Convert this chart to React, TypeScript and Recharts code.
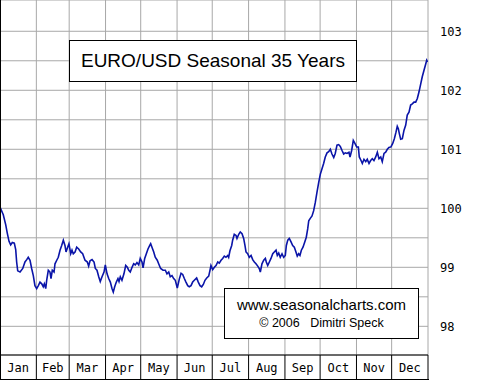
import React from "react";
import { LineChart, Line, XAxis, YAxis, CartesianGrid } from "recharts";

const months = ["Jan", "Feb", "Mar", "Apr", "May", "Jun", "Jul", "Aug", "Sep", "Oct", "Nov", "Dec"];
const monthStarts = [0, 31, 59, 90, 120, 151, 181, 212, 243, 273, 304, 334, 365];
const monthMids = [15.5, 45, 74.5, 105, 135.5, 166, 196.5, 227.5, 258, 288.5, 319, 349.5];
const yTicks = [98, 98.5, 99, 99.5, 100, 100.5, 101, 101.5, 102, 102.5, 103];

const days = [
  0, 2.8, 4.9, 6.2, 7.7, 9.1, 10.5, 12.2, 13.4, 14.2, 15.1, 17.1, 19.4, 21.3, 22.8, 24.1, 25.6, 27.0, 28.4, 29.8,
  31.3, 32.7, 34.1, 35.6, 36.9, 37.8, 39.0, 39.8, 41.2, 42.6, 43.5, 44.6, 46.1, 46.9, 48.4, 49.7, 51.2, 52.6, 54.0, 55.4,
  56.3, 57.7, 58.8, 60.3, 61.4, 62.5, 64.0, 65.4, 67.1, 68.8, 70.5, 72.5, 74.5, 75.6, 76.8, 78.5, 80.2, 81.3, 82.7, 84.2,
  85.5, 87.0, 88.7, 89.8, 91.3, 92.7, 94.1, 95.5, 96.6, 97.8, 99.2, 100.6, 101.5, 102.6, 104.0, 105.7, 107.2, 108.6, 109.8, 111.1,
  112.6, 114.0, 115.4, 116.8, 118.3, 119.6, 121.1, 122.0, 123.4, 124.8, 126.2, 127.7, 128.5, 129.6, 131.1, 132.4, 134.1, 135.3, 137.0, 139.0,
  141.0, 142.4, 143.9, 145.2, 146.7, 148.1, 149.5, 151.2, 152.9, 154.4, 155.8, 157.2, 158.6, 160.1, 161.4, 162.9, 164.3, 165.7, 167.7, 169.1,
  170.6, 172.0, 173.4, 174.8, 176.3, 178.0, 179.1, 179.9, 181.4, 182.8, 184.2, 185.7, 187.0, 188.5, 189.9, 191.3, 192.7, 194.2, 195.0, 196.1,
  197.6, 198.4, 199.8, 201.3, 202.1, 203.6, 204.9, 206.4, 207.8, 208.9, 209.8, 211.2, 212.6, 214.1, 215.5, 216.9, 218.3, 219.8, 221.1, 222.0,
  223.4, 224.9, 226.3, 227.1, 228.3, 229.7, 231.1, 232.6, 233.9, 235.4, 236.5, 237.7, 239.0, 240.5, 241.9, 243.3, 244.2, 245.4, 246.7, 248.2,
  249.6, 251.0, 252.4, 253.5, 254.7, 255.8, 257.0, 258.4, 259.9, 261.2, 262.4, 263.3, 264.6, 266.1, 267.5, 268.9, 270.3, 271.8, 273.2, 274.6,
  276.0, 277.4, 278.9, 280.3, 281.7, 283.1, 284.6, 285.9, 287.4, 288.8, 290.2, 291.7, 293.1, 294.5, 295.9, 297.6, 298.5, 299.9, 301.3, 302.7,
  304.2, 305.6, 306.4, 307.9, 309.0, 310.4, 311.9, 313.2, 314.7, 316.1, 317.5, 318.9, 320.4, 321.8, 323.2, 324.7, 326.0, 327.5, 328.9, 330.3,
  331.7, 333.4, 334.9, 336.3, 337.7, 338.8, 339.7, 340.5, 341.7, 343.1, 344.5, 346.0, 347.3, 348.8, 350.2, 351.6, 353.1, 354.5, 355.9, 357.3,
  358.8, 360.1, 361.6, 363.0, 363.9, 364.7,
];

const values = [
  100.02, 99.89, 99.72, 99.58, 99.44, 99.38, 99.42, 99.41, 99.30, 99.09, 98.94, 98.92, 98.98, 99.09, 99.13, 99.17, 99.12, 98.98, 98.86, 98.69,
  98.64, 98.69, 98.75, 98.72, 98.67, 98.72, 98.64, 98.78, 98.95, 98.92, 98.81, 98.95, 98.92, 99.06, 99.12, 99.17, 99.29, 99.37, 99.46, 99.37,
  99.26, 99.34, 99.40, 99.23, 99.29, 99.23, 99.26, 99.34, 99.31, 99.26, 99.23, 99.12, 99.09, 99.02, 99.11, 99.13, 99.09, 98.98, 98.95, 98.84,
  98.76, 98.84, 98.92, 99.04, 98.89, 98.81, 98.75, 98.64, 98.58, 98.67, 98.75, 98.81, 98.76, 98.84, 98.78, 98.89, 99.03, 99.00, 98.95, 98.92,
  99.00, 99.06, 99.04, 99.08, 99.04, 99.15, 99.09, 98.99, 99.15, 99.23, 99.31, 99.37, 99.40, 99.34, 99.26, 99.17, 99.12, 99.06, 98.98, 98.95,
  98.95, 98.89, 98.92, 98.84, 98.86, 98.81, 98.78, 98.65, 98.80, 98.90, 98.88, 98.81, 98.75, 98.69, 98.67, 98.69, 98.75, 98.78, 98.82, 98.75,
  98.69, 98.67, 98.71, 98.78, 98.82, 98.85, 98.95, 99.03, 98.96, 99.00, 99.03, 99.09, 99.07, 99.12, 99.15, 99.19, 99.17, 99.20, 99.17, 99.28,
  99.37, 99.46, 99.56, 99.54, 99.49, 99.56, 99.60, 99.57, 99.49, 99.37, 99.26, 99.23, 99.17, 99.20, 99.13, 99.09, 99.06, 99.02, 98.98, 98.92,
  99.06, 99.12, 99.15, 99.09, 99.03, 99.09, 99.15, 99.23, 99.26, 99.29, 99.20, 99.24, 99.17, 99.23, 99.17, 99.20, 99.37, 99.46, 99.49, 99.43,
  99.37, 99.34, 99.26, 99.19, 99.23, 99.20, 99.29, 99.34, 99.43, 99.51, 99.65, 99.79, 99.83, 99.87, 99.96, 100.10, 100.27, 100.44, 100.58, 100.67,
  100.76, 100.87, 100.94, 100.96, 101.00, 100.92, 100.86, 100.93, 101.07, 101.08, 101.05, 100.98, 100.92, 100.94, 100.93, 100.95, 100.87, 100.98, 101.15, 101.10,
  101.04, 101.04, 100.87, 100.81, 100.76, 100.83, 100.79, 100.83, 100.76, 100.81, 100.84, 100.81, 100.87, 100.95, 100.84, 100.87, 100.79, 100.93, 100.95, 101.00,
  101.03, 101.04, 101.10, 101.18, 101.29, 101.39, 101.35, 101.27, 101.17, 101.18, 101.32, 101.41, 101.58, 101.63, 101.75, 101.77, 101.80, 101.80, 101.86, 101.97,
  102.11, 102.23, 102.34, 102.44, 102.51, 102.48,
];

const data = days.map((d, i) => ({ day: d, value: values[i] }));
const labelTicks = [...monthStarts, ...monthMids].sort((a, b) => a - b);

const MonthTick = (props: any) => {
  const { x, y, payload } = props;
  const v = payload.value;
  if (monthStarts.indexOf(v) >= 0) {
    return <line x1={x} x2={x} y1={y} y2={y + 24} stroke="#000" strokeWidth={1} />;
  }
  const mi = monthMids.indexOf(v);
  return (
    <text x={x} y={y + 13} textAnchor="middle" dominantBaseline="central" fontFamily="DejaVu Sans Mono" fontSize={12} fill="#000">
      {months[mi]}
    </text>
  );
};

export default function App() {
  return (
    <div style={{ position: "absolute", left: 0, top: 0, width: 480, height: 380, background: "#fff", overflow: "hidden" }}>
      <LineChart width={480} height={380} data={data} margin={{ top: 0, right: 0, bottom: 1, left: 0 }}>
        <XAxis
          xAxisId="lab"
          dataKey="day"
          type="number"
          domain={[0, 365]}
          ticks={labelTicks}
          interval={0}
          height={24}
          tickSize={0}
          tickMargin={0}
          tickLine={false}
          axisLine={{ stroke: "#000" }}
          tick={<MonthTick />}
          allowDataOverflow
        />
        <XAxis xAxisId="grid" dataKey="day" type="number" domain={[0, 365]} ticks={monthStarts} hide height={0} allowDataOverflow />
        <YAxis
          orientation="right"
          type="number"
          domain={[97.514, 103.53]}
          ticks={yTicks}
          interval={0}
          width={52}
          tickLine={false}
          axisLine={false}
          tickSize={0}
          tickMargin={12}
          allowDataOverflow
          tick={{ fontFamily: "DejaVu Sans Mono", fontSize: 12, fill: "#000" }}
          tickFormatter={(v: number) => (Number.isInteger(v) ? String(v) : "")}
        />
        <CartesianGrid xAxisId="grid" stroke="#a8a8a8" strokeWidth={1} />
        <Line
          xAxisId="grid"
          type="linear"
          dataKey="value"
          stroke="#0a14a8"
          strokeWidth={1.6}
          dot={false}
          activeDot={false}
          isAnimationActive={false}
        />
      </LineChart>
      <div style={{ position: "absolute", left: 0, top: 0, width: 1, height: 380, background: "#000" }} />
      <div style={{ position: "absolute", left: 0, top: 379, width: 429, height: 1, background: "#000" }} />
      <div
        style={{
          position: "absolute", left: 69, top: 40, width: 288, height: 42, boxSizing: "border-box",
          border: "1px solid #000", background: "#fff", display: "flex", alignItems: "center", justifyContent: "center",
          fontFamily: "Liberation Sans", fontSize: 19, color: "#000",
        }}
      >
        EURO/USD Seasonal 35 Years
      </div>
      <div
        style={{
          position: "absolute", left: 224, top: 288, width: 195, height: 51, boxSizing: "border-box",
          border: "1px solid #000", background: "#fff", fontFamily: "Liberation Sans", color: "#000",
        }}
      >
        <div style={{ position: "absolute", left: 0, width: "100%", top: 7, textAlign: "center", fontSize: 15, lineHeight: "18px" }}>
          www.seasonalcharts.com
        </div>
        <div style={{ position: "absolute", left: 0, width: "100%", top: 26, textAlign: "center", fontSize: 12.5, lineHeight: "16px", whiteSpace: "pre" }}>
          {"© 2006   Dimitri Speck"}
        </div>
      </div>
    </div>
  );
}
